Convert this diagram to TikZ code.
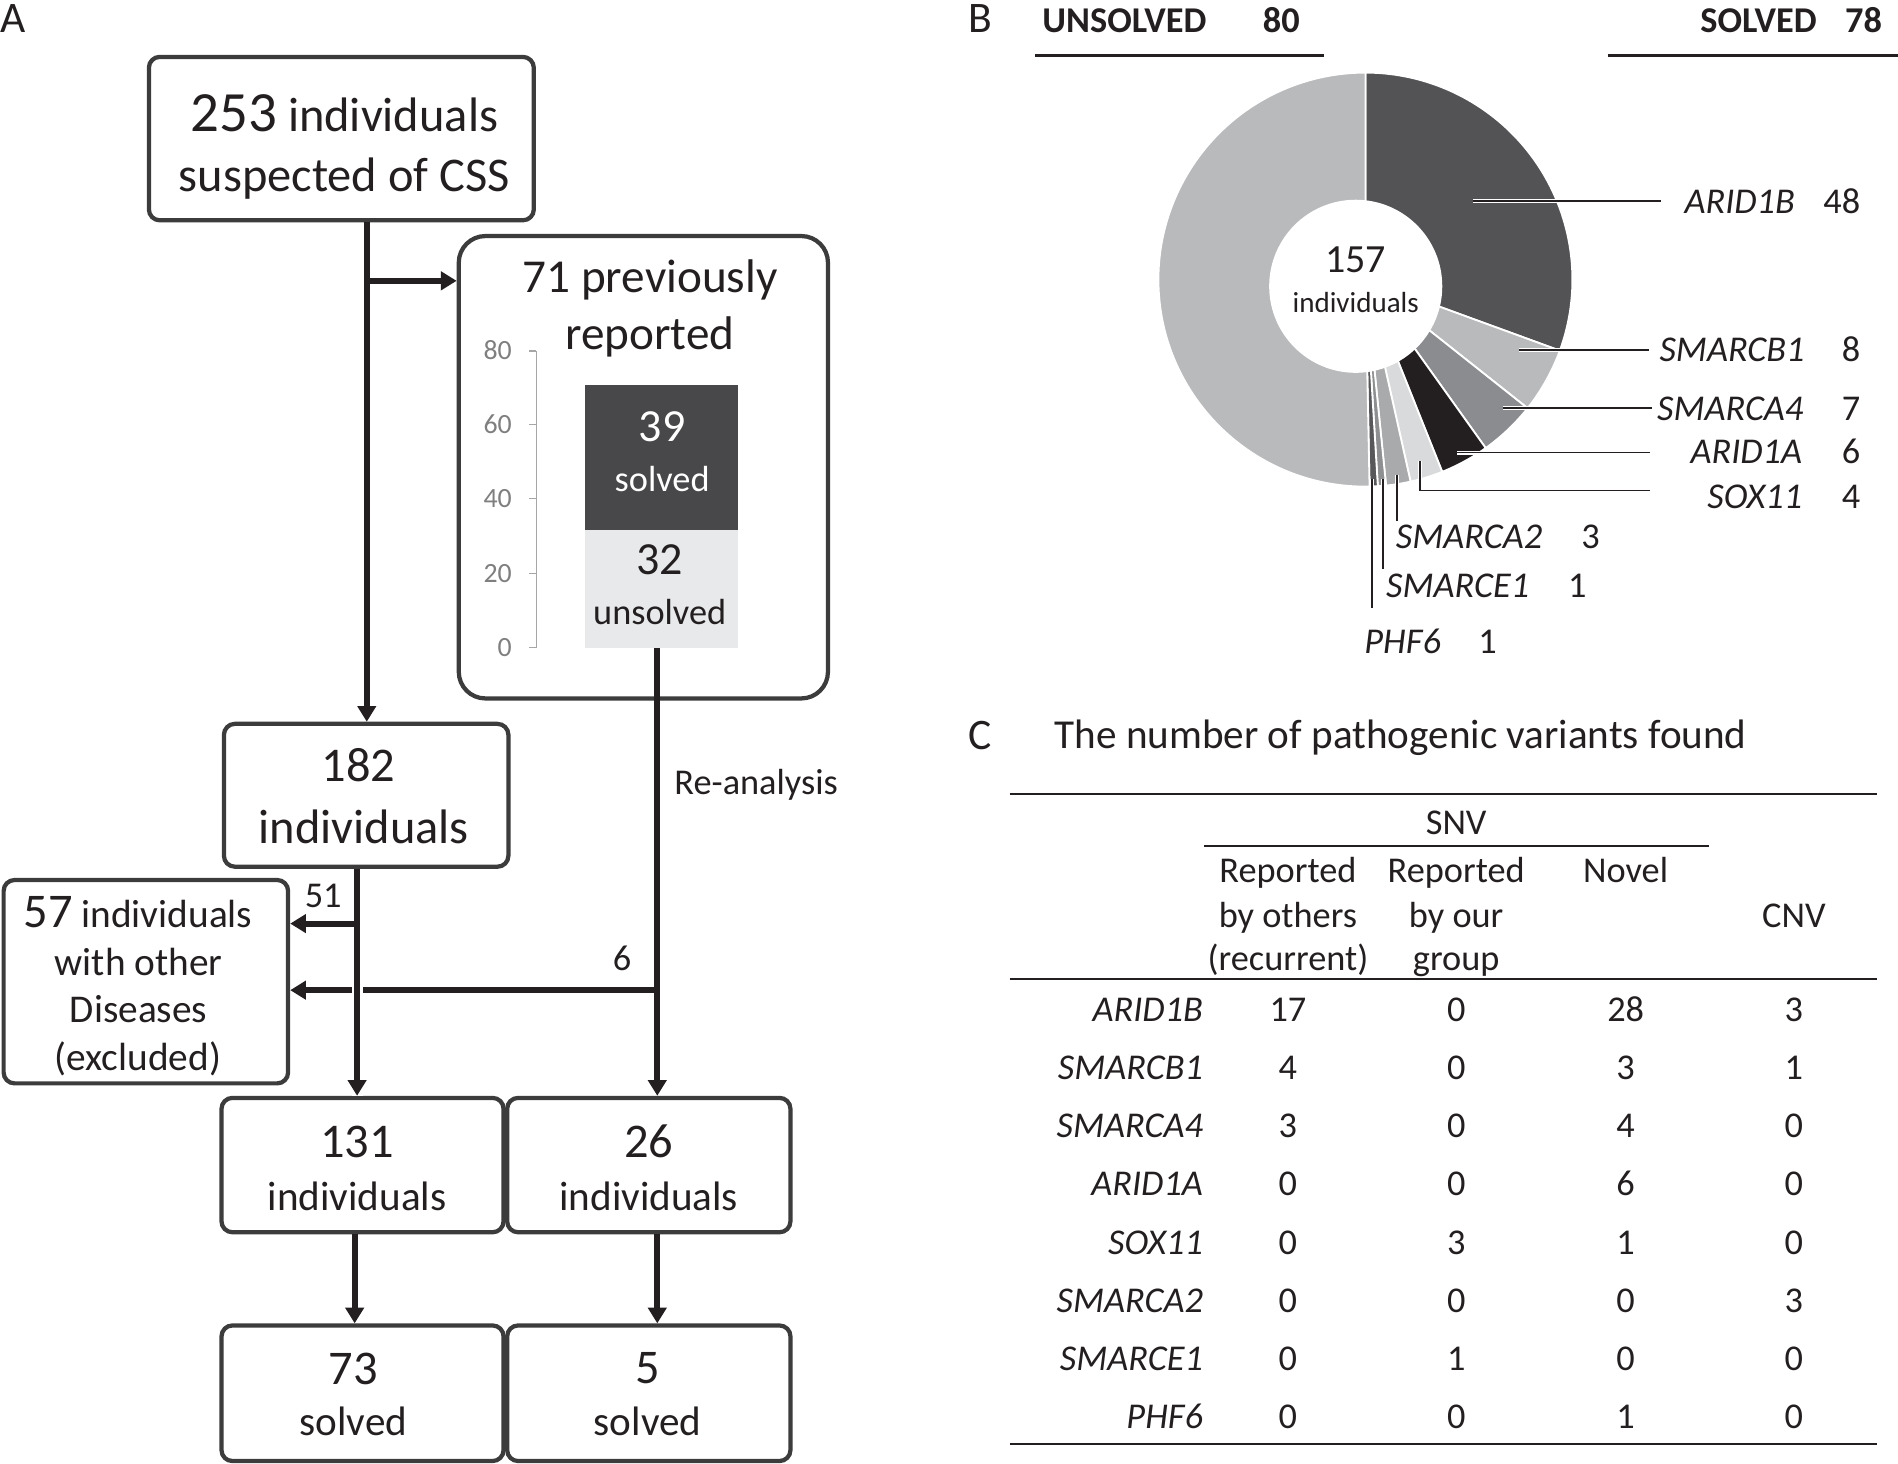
\documentclass[tikz,border=0pt]{standalone}
\usepackage{fontspec}
\setmainfont{Carlito}
\usetikzlibrary{arrows.meta,calc}
\newcommand\myfs[1]{\fontsize{#1pt}{#1pt}\selectfont}
\definecolor{ink}{HTML}{231F20}
\definecolor{boxc}{HTML}{3C3C3C}
\definecolor{bardark}{HTML}{48484B}
\definecolor{barlight}{HTML}{E8E9EB}
\definecolor{axisc}{HTML}{A6A6A6}
\definecolor{axist}{HTML}{7F7F7F}
\definecolor{pA}{HTML}{535356}
\definecolor{pB}{HTML}{B9BABC}
\definecolor{pC}{HTML}{8B8C8F}
\definecolor{pD}{HTML}{231F20}
\definecolor{pE}{HTML}{D9DADB}
\definecolor{pF}{HTML}{A9AAAC}
\definecolor{pG}{HTML}{8E8F91}
\definecolor{pH}{HTML}{58585A}
\definecolor{pU}{HTML}{B9BABC}
\begin{document}
\begin{tikzpicture}[x=1pt,y=-1pt,
  box/.style={draw=boxc,line width=3.5pt,rounded corners=9pt,inner sep=0pt},
  txt/.style={inner sep=0pt,anchor=base,text=ink},
  arr/.style={draw=ink,line width=5pt,-{Triangle[length=13pt,width=15pt]}},
  lead/.style={draw=ink,line width=1.2pt,preaction={draw=white,line width=3.5pt}},
  rule/.style={draw=ink,line width=1.5pt},
  tick/.style={draw=axisc,line width=1pt}]
\useasboundingbox (0,0) rectangle (1568,1209.45);

% ---------------- Panel A ----------------
\node[txt,anchor=base west] (lA) at (0,27) {\myfs{36}A};

\node[box,minimum width=318pt,minimum height=135pt] (b1) at (282,114.5) {};
\node[txt] (b1t1) at (284.5,109) {{\myfs{47}253}{\myfs{40} individuals}};
\node[txt] (b1t2) at (284.5,158) {\myfs{40}suspected of CSS};

\node[box,rounded corners=22pt,minimum width=305pt,minimum height=382pt] (b2) at (531.5,386) {};
\node[txt] (b2t1) at (537,242) {\myfs{39}71 previously};
\node[txt] (b2t2) at (537,289) {\myfs{39}reported};

% axis
\draw[tick] (443,290) -- (443,535);
\foreach \v/\yy in {80/290,60/351,40/412,20/474,0/535}{
  \draw[tick] (437,\yy) -- (443,\yy);
  \node[inner sep=0pt,anchor=base east,text=axist] (ax\v) at (423,\yy+7) {\myfs{23}\v};
}
% bar
\node[fill=bardark,inner sep=0pt,minimum width=127pt,minimum height=120pt] (barS) at (546.5,378) {};
\node[fill=barlight,inner sep=0pt,minimum width=127pt,minimum height=97pt] (barU) at (546.5,486.5) {};
\node[txt,text=white] (bs1) at (547,365) {\myfs{38}39};
\node[txt,text=white] (bs2) at (547,406) {\myfs{30}solved};
\node[txt] (bu1) at (545,475) {\myfs{38}32};
\node[txt] (bu2) at (545,516) {\myfs{30}unsolved};

\node[box,minimum width=235pt,minimum height=118pt] (b182) at (302.5,657) {};
\node[txt] (b182t1) at (296,646) {\myfs{40}182};
\node[txt] (b182t2) at (300.5,697) {\myfs{40}individuals};

\node[box,minimum width=235pt,minimum height=168pt] (b57) at (120.5,811) {};
\node[txt] (b57t1) at (114,766) {{\myfs{40}57}{\myfs{32.5} individuals}};
\node[txt] (b57t2) at (114.5,806) {\myfs{32.5}with other};
\node[txt] (b57t3) at (114.5,845) {\myfs{32.5}Diseases};
\node[txt] (b57t4) at (114,884) {\myfs{32.5}(excluded)};

\node[box,minimum width=233pt,minimum height=111pt] (b131) at (299.5,962.5) {};
\node[txt] (b131t1) at (295,956) {\myfs{40}131};
\node[txt] (b131t2) at (295,1000) {\myfs{34}individuals};

\node[box,minimum width=234pt,minimum height=111pt] (b26) at (536,962.5) {};
\node[txt] (b26t1) at (536,956) {\myfs{40}26};
\node[txt] (b26t2) at (536,1000) {\myfs{34}individuals};

\node[box,minimum width=233pt,minimum height=112pt] (b73) at (299.5,1151) {};
\node[txt] (b73t1) at (292,1144) {\myfs{40}73};
\node[txt] (b73t2) at (292,1186) {\myfs{34}solved};

\node[box,minimum width=234pt,minimum height=112pt] (b5) at (536,1151) {};
\node[txt] (b5t1) at (535,1143) {\myfs{40}5};
\node[txt] (b5t2) at (535,1186) {\myfs{34}solved};

% connectors
\coordinate (v1) at (303,0);
\coordinate (v2) at (543,0);
\coordinate (v3) at (295,0);
\coordinate (v4) at (293,0);
\coordinate (j1) at (303,232);
\coordinate (j2) at (295,763);
\coordinate (j3) at (543,818);

\draw[arr] (v1 |- b1.south) -- (v1 |- b182.north);
\draw[arr] (j1) -- (j1 -| b2.west);
\draw[arr] (v2 |- barU.south) -- (v2 |- b26.north);
\draw[arr] (j3) -- (j3 -| b57.east);
\draw[arr,preaction={draw=white,line width=9pt,-}] (v3 |- b182.south) -- (v3 |- b131.north);
\draw[arr] (j2) -- (j2 -| b57.east);
\draw[arr] (v4 |- b131.south) -- (v4 |- b73.north);
\draw[arr] (v2 |- b26.south) -- (v2 |- b5.north);

\node[txt,anchor=base west] (reana) at (557,656) {\myfs{30}Re-analysis};
\node[txt] (n51) at (267,750) {\myfs{30}51};
\node[txt] (n6) at (514,802) {\myfs{30}6};

% ---------------- Panel B ----------------
\node[txt,anchor=base west] (lB) at (800,27) {\myfs{36}B};
\node[txt,anchor=base west] (hu) at (861,27) {\myfs{30}\bfseries UNSOLVED};
\node[txt,anchor=base east] (hu2) at (1074,27) {\myfs{30}\bfseries 80};
\node[txt,anchor=base east] (hs) at (1501,27) {\myfs{30}\bfseries SOLVED};
\node[txt,anchor=base east] (hs2) at (1555,27) {\myfs{30}\bfseries 78};
\draw[ink,line width=2pt] (855,46) -- (1094,46);
\draw[ink,line width=2pt] (1328,46) -- (1568,46);

\begin{scope}[shift={(1128,231)},yscale=-1]
  \def\R{171}
  \foreach \a/\b/\c in {90/-20.064/pA, -20.064/-38.408/pB, -38.408/-54.459/pC,
     -54.459/-68.217/pD, -68.217/-77.389/pE, -77.389/-84.268/pF,
     -84.268/-86.561/pG, -86.561/-88.854/pH, -88.854/-270/pU}{
    \fill[\c,draw=white,line width=1.5pt] (0,0) -- (\a:\R) arc[start angle=\a,end angle=\b,radius=\R] -- cycle;
  }
\end{scope}
\fill[white] (1120,236.5) circle[radius=71.5];
\node[txt] (c157) at (1120,225) {\myfs{33}157};
\node[txt] (cind) at (1120,258) {\myfs{24}individuals};

\draw[lead] (1217,166) -- (1372,166);
\draw[lead] (1255,289) -- (1362,289);
\draw[lead] (1242,337) -- (1365,337);
\draw[lead] (1204,374) -- (1363,374);
\draw[lead] (1173,381) -- (1173,405) -- (1363,405);
\draw[lead] (1154,392) -- (1154,430);
\draw[lead] (1142.5,396) -- (1142.5,470);
\draw[lead] (1133.5,396) -- (1133.5,502);

\node[txt,anchor=base east] (gA) at (1483,176) {\myfs{30}\itshape ARID1B};
\node[txt,anchor=base east] (nA) at (1537,176) {\myfs{30}48};
\node[txt,anchor=base east] (gB) at (1491,299) {\myfs{30}\itshape SMARCB1};
\node[txt,anchor=base east] (nB) at (1537,299) {\myfs{30}8};
\node[txt,anchor=base east] (gC) at (1490,347) {\myfs{30}\itshape SMARCA4};
\node[txt,anchor=base east] (nC) at (1537,347) {\myfs{30}7};
\node[txt,anchor=base east] (gD) at (1489,383) {\myfs{30}\itshape ARID1A};
\node[txt,anchor=base east] (nD) at (1537,383) {\myfs{30}6};
\node[txt,anchor=base east] (gE) at (1489,420) {\myfs{30}\itshape SOX11};
\node[txt,anchor=base east] (nE) at (1537,420) {\myfs{30}4};
\node[txt,anchor=base west] (gF) at (1153,453) {\myfs{30}\itshape SMARCA2};
\node[txt] (nF) at (1314,453) {\myfs{30}3};
\node[txt,anchor=base west] (gG) at (1145,494) {\myfs{30}\itshape SMARCE1};
\node[txt] (nG) at (1303,494) {\myfs{30}1};
\node[txt,anchor=base west] (gH) at (1127,540) {\myfs{30}\itshape PHF6};
\node[txt] (nH) at (1229,540) {\myfs{30}1};

% ---------------- Panel C ----------------
\node[txt,anchor=base west] (lC) at (800,619) {\myfs{36}C};
\node[txt,anchor=base west] (title) at (871,618) {\myfs{34}The number of pathogenic variants found};
\draw[rule] (834,656) -- (1551,656);
\draw[rule] (995,699) -- (1412,699);
\draw[rule] (834,809) -- (1551,809);
\draw[rule] (834,1193) -- (1551,1193);

\node[txt] (hsnv) at (1203,689) {\myfs{30}SNV};
\node[txt] (h1a) at (1064,729) {\myfs{30}Reported};
\node[txt] (h1b) at (1064,766) {\myfs{30}by others};
\node[txt] (h1c) at (1064,802) {\myfs{30}(recurrent)};
\node[txt] (h2a) at (1203,729) {\myfs{30}Reported};
\node[txt] (h2b) at (1203,766) {\myfs{30}by our};
\node[txt] (h2c) at (1203,802) {\myfs{30}group};
\node[txt] (h3a) at (1343,729) {\myfs{30}Novel};
\node[txt] (h4a) at (1482,766) {\myfs{30}CNV};

\foreach \g/\a/\b/\c/\d [count=\i from 0] in {ARID1B/17/0/28/3, SMARCB1/4/0/3/1,
   SMARCA4/3/0/4/0, ARID1A/0/0/6/0, SOX11/0/3/1/0, SMARCA2/0/0/0/3,
   SMARCE1/0/1/0/0, PHF6/0/0/1/0}{
  \pgfmathsetmacro\yy{844+48*\i}
  \node[txt,anchor=base east] (rg\i) at (994,\yy) {\myfs{30}\itshape \g};
  \node[txt] (ra\i) at (1064,\yy) {\myfs{30}\a};
  \node[txt] (rb\i) at (1203,\yy) {\myfs{30}\b};
  \node[txt] (rc\i) at (1343,\yy) {\myfs{30}\c};
  \node[txt] (rd\i) at (1482,\yy) {\myfs{30}\d};
}
\end{tikzpicture}
\end{document}
